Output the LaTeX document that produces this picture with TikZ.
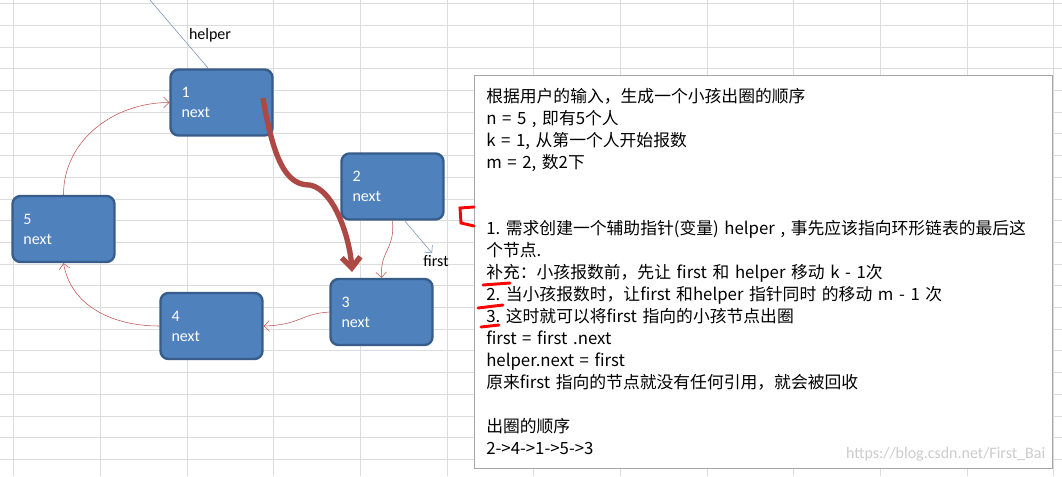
\documentclass[tikz,border=0pt]{standalone}
\usepackage{fontspec}
\setmainfont{Noto Sans CJK SC}
\newfontfamily\latinfont{Carlito}
\usetikzlibrary{arrows.meta}
\definecolor{boxblue}{HTML}{4F81BD}
\definecolor{boxedge}{HTML}{385D8A}
\definecolor{linkred}{HTML}{C0504D}
\definecolor{gridgray}{HTML}{DADCDD}
\definecolor{ptrblue}{HTML}{6F8FB8}

\begin{document}
\begin{tikzpicture}[x=0.75pt,y=-0.75pt,
    kid/.style={draw=boxedge, line width=1.8pt, fill=boxblue, rounded corners=6pt,
      minimum width=102pt*0.75, minimum height=66pt*0.75, text=white, align=left,
      text width=80pt*0.75, font=\latinfont\fontsize{12}{15}\selectfont},
    link/.style={linkred, thin, -{Straight Barb[length=4pt]}},
    ptr/.style={ptrblue, thin},
    redmark/.style={red, line width=2.2pt, line cap=round}]
\useasboundingbox (0,0) rectangle (1062,476);
\fill[white] (0,0) rectangle (1062,476);

% spreadsheet grid
\foreach \y in {3.5,25.2,...,470} \draw[gridgray, thin] (0,\y) -- (1062,\y);
\foreach \x in {13,100,187,273,360,447,533,620,707,793,880,967,1053}
  \draw[gridgray, thin] (\x,0) -- (\x,476);

% the ring of children
\node[kid] (n1) at (221.5,102.5) {1\\next};
\node[kid] (n2) at (392.5,186.5) {2\\next};
\node[kid] (n3) at (381.5,312) {3\\next};
\node[kid] (n4) at (211.5,326) {4\\next};
\node[kid] (n5) at (63.5,229) {5\\next};

% next pointers
\draw[link] (n2.south) .. controls (395,250) and (380,250) .. (n3.north);
\draw[link] (n3.west) .. controls (300,314) and (300,325) .. (n4.east);
\draw[link] (n4.west) to[out=180,in=-80] (n5.south);
\draw[link] (n5.north) to[out=90,in=180] (n1.west);

% counting move
\draw[linkred!90!black, line width=4pt, -{Straight Barb[length=8pt,width=14pt]}]
  (263,98) .. controls (275,170) and (290,185) .. (310,185)
  .. controls (335,190) and (350,240) .. (352,272);

% helper and first
\coordinate (hstart) at (150,0);
\coordinate (hend) at (208,68);
\draw[ptr] (hstart) -- (hend);
\node[font=\latinfont\fontsize{12}{14}\selectfont] (hlab) at (210,35) {helper};
\coordinate (fstart) at (404,220);
\coordinate (fend) at (432,253);
\draw[ptr, -{Straight Barb[length=4pt]}] (fstart) -- (fend);
\node[font=\latinfont\fontsize{12}{14}\selectfont] (flab) at (436,261) {first};

% notes
\node[draw=gray!70, fill=white, anchor=north west, align=left, inner sep=0pt,
  minimum width=578pt*0.75, minimum height=393pt*0.75, text width=578pt*0.75,
  font=\fontsize{12.6}{16.5}\selectfont] (notes) at (474,75) {%
  \hspace*{9pt}根据用户的输入，生成一个小孩出圈的顺序\\
  \hspace*{9pt}n = 5 , 即有5个人\\
  \hspace*{9pt}k = 1, 从第一个人开始报数\\
  \hspace*{9pt}m = 2, 数2下\\[33pt]
  \hspace*{9pt}1.\ 需求创建一个辅助指针(变量) helper , 事先应该指向环形链表的最后这\\
  \hspace*{9pt}个节点.\\
  \hspace*{9pt}补充：小孩报数前，先让 first 和 helper 移动 k - 1次\\
  \hspace*{9pt}2.\ 当小孩报数时，让first 和helper 指针同时 的移动 m - 1 次\\
  \hspace*{9pt}3.\ 这时就可以将first 指向的小孩节点出圈\\
  \hspace*{9pt}first = first .next\\
  \hspace*{9pt}helper.next = first\\
  \hspace*{9pt}原来first 指向的节点就没有任何引用，就会被回收\\[16.5pt]
  \hspace*{9pt}出圈的顺序\\
  \hspace*{9pt}2->4->1->5->3\\[6pt]};

% red marks
\draw[redmark] (474,207) -- (460,208) -- (461,223) -- (474,226);
\draw[redmark] (483,285) -- (510,283);
\draw[redmark] (478,308) -- (503,305);
\draw[redmark] (481,327) -- (499,325);

\node[gray!40, anchor=south east, font=\latinfont\fontsize{12}{14}\selectfont]
  (wmark) at (1050,466) {https://blog.csdn.net/First\_Bai};
\end{tikzpicture}
\end{document}
